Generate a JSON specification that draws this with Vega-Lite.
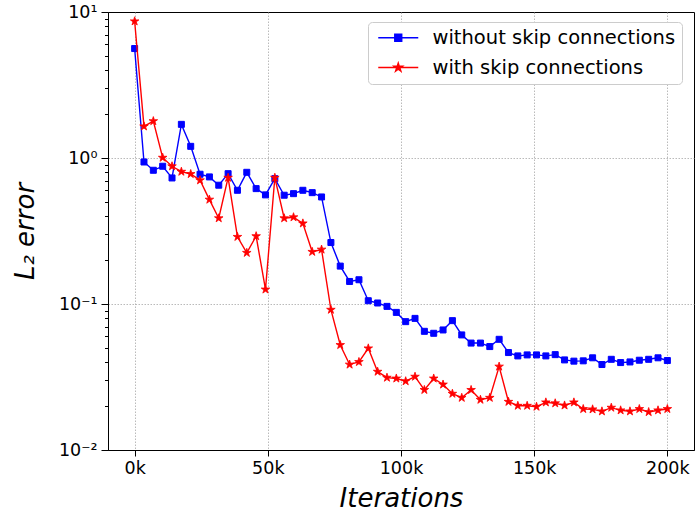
{
  "$schema": "https://vega.github.io/schema/vega-lite/v6.json",
  "width": 586,
  "height": 438,
  "autosize": {"type": "none"},
  "padding": {"left": 108, "top": 12, "right": 1, "bottom": 65},
  "config": {
    "view": {"stroke": "black", "strokeWidth": 1},
    "font": "DejaVu Sans",
    "axis": {
      "labelFont": "DejaVu Sans",
      "labelFontSize": 17.5,
      "labelColor": "black",
      "tickColor": "black",
      "domainColor": "black",
      "tickWidth": 1,
      "domainWidth": 1,
      "titleFont": "DejaVu Sans",
      "titleFontStyle": "italic",
      "titleFontWeight": "normal",
      "titleFontSize": 26,
      "titleColor": "black",
      "gridColor": "#a8a8a8",
      "gridWidth": 0.8,
      "gridDash": [1.5, 1.5]
    }
  },
  "data": {"values": [
    {"iteration": 0, "series": "without skip connections", "error": 5.62},
    {"iteration": 3509, "series": "without skip connections", "error": 0.939},
    {"iteration": 7018, "series": "without skip connections", "error": 0.824},
    {"iteration": 10526, "series": "without skip connections", "error": 0.878},
    {"iteration": 14035, "series": "without skip connections", "error": 0.730},
    {"iteration": 17544, "series": "without skip connections", "error": 1.70},
    {"iteration": 21053, "series": "without skip connections", "error": 1.202},
    {"iteration": 24561, "series": "without skip connections", "error": 0.774},
    {"iteration": 28070, "series": "without skip connections", "error": 0.742},
    {"iteration": 31579, "series": "without skip connections", "error": 0.651},
    {"iteration": 35088, "series": "without skip connections", "error": 0.781},
    {"iteration": 38596, "series": "without skip connections", "error": 0.601},
    {"iteration": 42105, "series": "without skip connections", "error": 0.798},
    {"iteration": 45614, "series": "without skip connections", "error": 0.617},
    {"iteration": 49123, "series": "without skip connections", "error": 0.559},
    {"iteration": 52632, "series": "without skip connections", "error": 0.722},
    {"iteration": 56140, "series": "without skip connections", "error": 0.556},
    {"iteration": 59649, "series": "without skip connections", "error": 0.570},
    {"iteration": 63158, "series": "without skip connections", "error": 0.601},
    {"iteration": 66667, "series": "without skip connections", "error": 0.579},
    {"iteration": 70175, "series": "without skip connections", "error": 0.541},
    {"iteration": 73684, "series": "without skip connections", "error": 0.2637},
    {"iteration": 77193, "series": "without skip connections", "error": 0.1818},
    {"iteration": 80702, "series": "without skip connections", "error": 0.1427},
    {"iteration": 84211, "series": "without skip connections", "error": 0.1466},
    {"iteration": 87719, "series": "without skip connections", "error": 0.1053},
    {"iteration": 91228, "series": "without skip connections", "error": 0.1016},
    {"iteration": 94737, "series": "without skip connections", "error": 0.0963},
    {"iteration": 98246, "series": "without skip connections", "error": 0.0876},
    {"iteration": 101754, "series": "without skip connections", "error": 0.0757},
    {"iteration": 105263, "series": "without skip connections", "error": 0.0797},
    {"iteration": 108772, "series": "without skip connections", "error": 0.0650},
    {"iteration": 112281, "series": "without skip connections", "error": 0.0630},
    {"iteration": 115789, "series": "without skip connections", "error": 0.0664},
    {"iteration": 119298, "series": "without skip connections", "error": 0.0769},
    {"iteration": 122807, "series": "without skip connections", "error": 0.0614},
    {"iteration": 126316, "series": "without skip connections", "error": 0.0540},
    {"iteration": 129825, "series": "without skip connections", "error": 0.0540},
    {"iteration": 133333, "series": "without skip connections", "error": 0.0511},
    {"iteration": 136842, "series": "without skip connections", "error": 0.0573},
    {"iteration": 140351, "series": "without skip connections", "error": 0.0465},
    {"iteration": 143860, "series": "without skip connections", "error": 0.0441},
    {"iteration": 147368, "series": "without skip connections", "error": 0.0448},
    {"iteration": 150877, "series": "without skip connections", "error": 0.0448},
    {"iteration": 154386, "series": "without skip connections", "error": 0.0441},
    {"iteration": 157895, "series": "without skip connections", "error": 0.0450},
    {"iteration": 161404, "series": "without skip connections", "error": 0.0414},
    {"iteration": 164912, "series": "without skip connections", "error": 0.0406},
    {"iteration": 168421, "series": "without skip connections", "error": 0.0408},
    {"iteration": 171930, "series": "without skip connections", "error": 0.0428},
    {"iteration": 175439, "series": "without skip connections", "error": 0.0385},
    {"iteration": 178947, "series": "without skip connections", "error": 0.0418},
    {"iteration": 182456, "series": "without skip connections", "error": 0.0397},
    {"iteration": 185965, "series": "without skip connections", "error": 0.0401},
    {"iteration": 189474, "series": "without skip connections", "error": 0.0412},
    {"iteration": 192982, "series": "without skip connections", "error": 0.0418},
    {"iteration": 196491, "series": "without skip connections", "error": 0.0428},
    {"iteration": 200000, "series": "without skip connections", "error": 0.0410},
    {"iteration": 0, "series": "with skip connections", "error": 8.64},
    {"iteration": 3509, "series": "with skip connections", "error": 1.647},
    {"iteration": 7018, "series": "with skip connections", "error": 1.790},
    {"iteration": 10526, "series": "with skip connections", "error": 1.005},
    {"iteration": 14035, "series": "with skip connections", "error": 0.878},
    {"iteration": 17544, "series": "with skip connections", "error": 0.806},
    {"iteration": 21053, "series": "with skip connections", "error": 0.777},
    {"iteration": 24561, "series": "with skip connections", "error": 0.704},
    {"iteration": 28070, "series": "with skip connections", "error": 0.519},
    {"iteration": 31579, "series": "with skip connections", "error": 0.387},
    {"iteration": 35088, "series": "with skip connections", "error": 0.733},
    {"iteration": 38596, "series": "with skip connections", "error": 0.2884},
    {"iteration": 42105, "series": "with skip connections", "error": 0.2242},
    {"iteration": 45614, "series": "with skip connections", "error": 0.2916},
    {"iteration": 49123, "series": "with skip connections", "error": 0.1258},
    {"iteration": 52632, "series": "with skip connections", "error": 0.733},
    {"iteration": 56140, "series": "with skip connections", "error": 0.387},
    {"iteration": 59649, "series": "with skip connections", "error": 0.393},
    {"iteration": 63158, "series": "with skip connections", "error": 0.3567},
    {"iteration": 66667, "series": "with skip connections", "error": 0.2278},
    {"iteration": 70175, "series": "with skip connections", "error": 0.2361},
    {"iteration": 73684, "series": "with skip connections", "error": 0.0914},
    {"iteration": 77193, "series": "with skip connections", "error": 0.0524},
    {"iteration": 80702, "series": "with skip connections", "error": 0.0385},
    {"iteration": 84211, "series": "with skip connections", "error": 0.0401},
    {"iteration": 87719, "series": "with skip connections", "error": 0.0497},
    {"iteration": 91228, "series": "with skip connections", "error": 0.0344},
    {"iteration": 94737, "series": "with skip connections", "error": 0.0313},
    {"iteration": 98246, "series": "with skip connections", "error": 0.0309},
    {"iteration": 101754, "series": "with skip connections", "error": 0.0296},
    {"iteration": 105263, "series": "with skip connections", "error": 0.0318},
    {"iteration": 108772, "series": "with skip connections", "error": 0.0258},
    {"iteration": 112281, "series": "with skip connections", "error": 0.0309},
    {"iteration": 115789, "series": "with skip connections", "error": 0.0281},
    {"iteration": 119298, "series": "with skip connections", "error": 0.0243},
    {"iteration": 122807, "series": "with skip connections", "error": 0.0228},
    {"iteration": 126316, "series": "with skip connections", "error": 0.0258},
    {"iteration": 129825, "series": "with skip connections", "error": 0.0221},
    {"iteration": 133333, "series": "with skip connections", "error": 0.0228},
    {"iteration": 136842, "series": "with skip connections", "error": 0.0373},
    {"iteration": 140351, "series": "with skip connections", "error": 0.0214},
    {"iteration": 143860, "series": "with skip connections", "error": 0.0201},
    {"iteration": 147368, "series": "with skip connections", "error": 0.0201},
    {"iteration": 150877, "series": "with skip connections", "error": 0.0198},
    {"iteration": 154386, "series": "with skip connections", "error": 0.0212},
    {"iteration": 157895, "series": "with skip connections", "error": 0.0209},
    {"iteration": 161404, "series": "with skip connections", "error": 0.0202},
    {"iteration": 164912, "series": "with skip connections", "error": 0.0212},
    {"iteration": 168421, "series": "with skip connections", "error": 0.0191},
    {"iteration": 171930, "series": "with skip connections", "error": 0.0190},
    {"iteration": 175439, "series": "with skip connections", "error": 0.0184},
    {"iteration": 178947, "series": "with skip connections", "error": 0.0195},
    {"iteration": 182456, "series": "with skip connections", "error": 0.0187},
    {"iteration": 185965, "series": "with skip connections", "error": 0.0184},
    {"iteration": 189474, "series": "with skip connections", "error": 0.0191},
    {"iteration": 192982, "series": "with skip connections", "error": 0.0182},
    {"iteration": 196491, "series": "with skip connections", "error": 0.0187},
    {"iteration": 200000, "series": "with skip connections", "error": 0.0191}
  ]},
  "layer": [
    {
      "transform": [{"filter": "datum.series === 'without skip connections'"}],
      "mark": {"type": "line", "strokeWidth": 1.4, "clip": true},
      "encoding": {
        "x": {
          "field": "iteration", "type": "quantitative",
          "scale": {"domain": [-10000, 210000], "nice": false, "zero": false},
          "axis": {
            "title": "Iterations",
            "values": [0, 50000, 100000, 150000, 200000],
            "labelExpr": "format(datum.value / 1000, 'd') + 'k'",
            "grid": true,
            "tickSize": 6,
            "labelPadding": 3,
            "titleBaseline": "alphabetic",
            "titleY": 56
          }
        },
        "y": {
          "field": "error", "type": "quantitative",
          "scale": {"type": "log", "domain": [0.01, 10], "nice": false},
          "axis": {
            "orient": "left",
            "title": "L₂ error",
            "values": [0.01, 0.1, 1, 10],
            "labelExpr": "datum.value > 5 ? '10¹' : datum.value > 0.5 ? '10⁰' : datum.value > 0.05 ? '10⁻¹' : '10⁻²'",
            "grid": true,
            "gridOpacity": {"condition": {"test": "datum.value > 5 || datum.value < 0.015", "value": 0}, "value": 1},
            "tickSize": 7,
            "labelPadding": 4,
            "titleAngle": 270,
            "titleBaseline": "alphabetic",
            "titleAlign": "center",
            "titleX": -75,
            "titleY": 219
          }
        },
        "color": {
          "field": "series", "type": "nominal",
          "scale": {"domain": ["without skip connections", "with skip connections"], "range": ["#0000ff", "#ff0000"]},
          "legend": {
            "title": null,
            "orient": "none",
            "legendX": 260,
            "legendY": 10,
            "padding": 6,
            "rowPadding": 8.8,
            "symbolSize": 289,
            "labelOffset": 39,
            "labelLimit": 500,
            "labelFont": "DejaVu Sans",
            "labelFontSize": 19.5,
            "labelColor": "black",
            "fillColor": "white",
            "strokeColor": "#cccccc",
            "cornerRadius": 4,
            "encode": {
              "symbols": {
                "update": {
                  "shape": {"signal": "datum.value === 'without skip connections' ? 'M-0.647,0 L4.06,0 M1.296,-0.41 L2.116,-0.41 L2.116,0.41 L1.296,0.41 Z' : 'M-0.647,0 L4.06,0 M1.706,-0.53 L1.825,-0.164 L2.21,-0.164 L1.899,0.063 L2.018,0.429 L1.706,0.203 L1.394,0.429 L1.513,0.063 L1.202,-0.164 L1.587,-0.164 Z'"},
                  "fill": {"signal": "datum.value === 'without skip connections' ? '#0000ff' : '#ff0000'"},
                  "stroke": {"signal": "datum.value === 'without skip connections' ? '#0000ff' : '#ff0000'"},
                  "strokeWidth": {"value": 1.4},
                  "opacity": {"value": 1}
                }
              }
            }
          }
        }
      }
    },
    {
      "transform": [{"filter": "datum.series === 'without skip connections'"}],
      "mark": {"type": "point", "shape": "square", "filled": true, "size": 36, "stroke": "#0000ff", "strokeWidth": 1, "opacity": 1, "clip": true},
      "encoding": {
        "x": {"field": "iteration", "type": "quantitative"},
        "y": {
          "field": "error", "type": "quantitative",
          "axis": {
            "orient": "left",
            "title": null,
            "values": [0.02, 0.03, 0.04, 0.05, 0.06, 0.07, 0.08, 0.09, 0.2, 0.3, 0.4, 0.5, 0.6, 0.7, 0.8, 0.9, 2, 3, 4, 5, 6, 7, 8, 9],
            "labels": false,
            "domain": false,
            "grid": false,
            "tickSize": 3.5
          }
        },
        "color": {"field": "series", "type": "nominal"}
      }
    },
    {
      "transform": [{"filter": "datum.series === 'with skip connections'"}],
      "mark": {"type": "line", "strokeWidth": 1.4, "clip": true},
      "encoding": {
        "x": {"field": "iteration", "type": "quantitative"},
        "y": {"field": "error", "type": "quantitative", "axis": null},
        "color": {"field": "series", "type": "nominal"}
      }
    },
    {
      "transform": [{"filter": "datum.series === 'with skip connections'"}],
      "mark": {"type": "point", "shape": "M0,-1 L0.225,-0.309 L0.951,-0.309 L0.363,0.118 L0.588,0.809 L0,0.382 L-0.588,0.809 L-0.363,0.118 L-0.951,-0.309 L-0.225,-0.309 Z", "filled": true, "size": 81, "stroke": "#ff0000", "strokeWidth": 0.8, "opacity": 1, "clip": true},
      "encoding": {
        "x": {"field": "iteration", "type": "quantitative"},
        "y": {"field": "error", "type": "quantitative", "axis": null},
        "color": {"field": "series", "type": "nominal"}
      }
    }
  ],
  "resolve": {"axis": {"y": "independent"}}
}
